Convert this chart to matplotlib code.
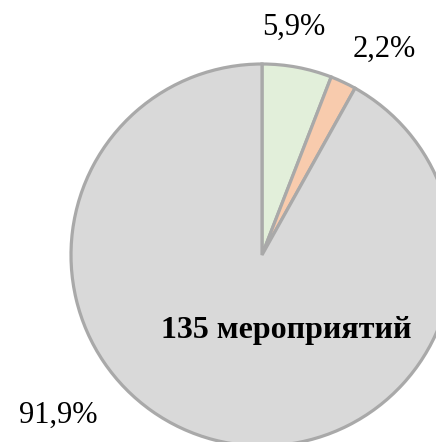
import matplotlib.pyplot as plt

# доли мероприятий
labels = ["5,9%", "2,2%", "91,9%"]
values = [5.9, 2.2, 91.9]
colors = ["#E2EFDA", "#F8CBAD", "#D9D9D9"]
center_text = "135 мероприятий"

W, H = 436, 442
fig = plt.figure(figsize=(W / 100, H / 100), dpi=100)
ax = fig.add_axes([0, 0, 1, 1])

# координаты в пикселях, y снизу вверх
cx, cy, r = 262, H - 255, 191
ax.pie(values, colors=colors, startangle=90, counterclock=False,
       center=(cx, cy), radius=r, frame=True,
       wedgeprops=dict(edgecolor="#A9A9A9", linewidth=2.3))
ax.set_xlim(0, W)
ax.set_ylim(0, H)
ax.set_aspect("equal")
ax.axis("off")

font = dict(family="Liberation Serif", color="black")
ax.text(294, H - 35, labels[0], ha="center", va="baseline", fontsize=22, **font)
ax.text(384, H - 57, labels[1], ha="center", va="baseline", fontsize=22, **font)
ax.text(58, H - 423, labels[2], ha="center", va="baseline", fontsize=22, **font)
ax.text(286, H - 338, center_text, ha="center", va="baseline",
        fontweight="bold", fontsize=23, **font)

fig.savefig("out.png", dpi=100)
